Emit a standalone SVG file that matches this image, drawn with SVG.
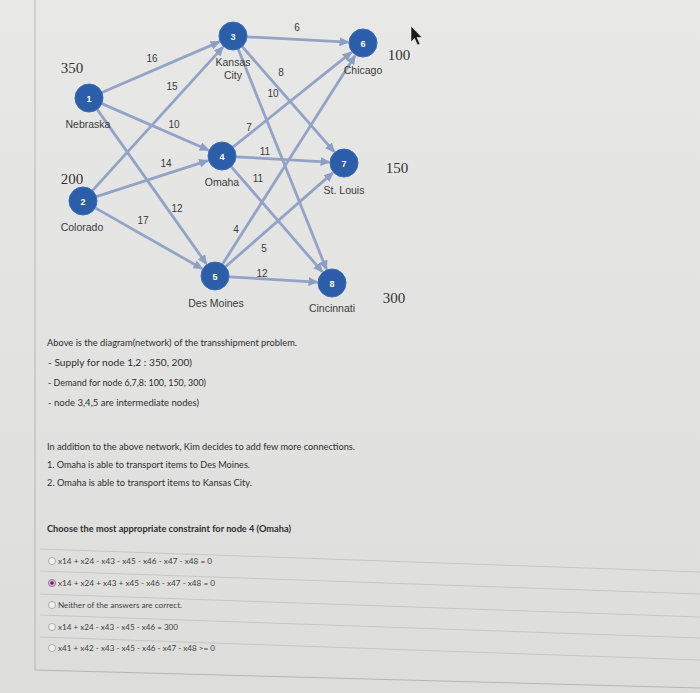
<svg xmlns="http://www.w3.org/2000/svg" width="700" height="693" viewBox="0 0 700 693">
<defs>
<linearGradient id="bg" x1="0" y1="0" x2="0" y2="1">
<stop offset="0" stop-color="#e8e9e6"/>
<stop offset="1" stop-color="#dddedb"/>
</linearGradient>
<marker id="ah" markerUnits="userSpaceOnUse" markerWidth="10" markerHeight="9" refX="8.5" refY="4.5" orient="auto">
<path d="M0,0 L10,4.5 L0,9 z" fill="#8d9ec4"/>
</marker>
</defs>
<style>
.edge{stroke:#93a3c7;stroke-width:2.8;fill:none;marker-end:url(#ah)}
.node circle{fill:#2b5da8;stroke:#3a6cb5;stroke-width:1}
.num{font-family:"Liberation Sans",Arial,sans-serif;font-size:9px;font-weight:bold;fill:#ffffff;text-anchor:middle}
.name{font-family:"Liberation Sans",Arial,sans-serif;font-size:10.5px;fill:#3a3a3a;text-anchor:middle}
.qty{font-family:"Liberation Serif","Times New Roman",serif;font-size:15px;fill:#333333;text-anchor:middle}
.w{font-family:"Liberation Sans",Arial,sans-serif;font-size:10px;fill:#3a3a3a;text-anchor:middle}
.t{font-family:Lato,"Liberation Sans",sans-serif;font-size:9px;fill:#2e2e2e}
.tb{font-family:Lato,"Liberation Sans",sans-serif;font-size:9px;font-weight:bold;fill:#2e2e2e}
.o{font-family:Lato,"Liberation Sans",sans-serif;font-size:7.8px;fill:#3e3e3e}
.sep{stroke:#c6c7c4;stroke-width:1}
.radio{fill:#f2f2f0;stroke:#9a9a98;stroke-width:0.8}
</style>
<rect x="0" y="0" width="700" height="693" fill="url(#bg)"/>
<line x1="35" y1="0" x2="35" y2="670" stroke="#b5b6b3" stroke-width="1"/>
<line x1="35" y1="670" x2="700" y2="688" stroke="#b5b6b3" stroke-width="1"/>

<g id="connectors">
<line class="edge" x1="101.9" y1="92.5" x2="219.2" y2="41.9"/>
<line class="edge" x1="101.8" y1="103.6" x2="208.2" y2="150"/>
<line class="edge" x1="97.1" y1="109.4" x2="206.3" y2="263.8"/>
<line class="edge" x1="92.4" y1="190.6" x2="222.9" y2="47.1"/>
<line class="edge" x1="96.3" y1="196.7" x2="207.7" y2="160.6"/>
<line class="edge" x1="95.2" y1="207.9" x2="202" y2="268.6"/>
<line class="edge" x1="247" y1="36.8" x2="348" y2="42.2"/>
<line class="edge" x1="242.2" y1="46.5" x2="334.1" y2="151.7"/>
<line class="edge" x1="238.2" y1="49" x2="326.4" y2="269.1"/>
<line class="edge" x1="232.9" y1="147.2" x2="351.3" y2="52.4"/>
<line class="edge" x1="236" y1="156.8" x2="329" y2="162.1"/>
<line class="edge" x1="231.2" y1="166.6" x2="322.2" y2="271.7"/>
<line class="edge" x1="222.5" y1="264.2" x2="355" y2="55.7"/>
<line class="edge" x1="225.5" y1="266.8" x2="332.7" y2="172.9"/>
<line class="edge" x1="229" y1="276.8" x2="317" y2="282.1"/>
<text class="w" x="152" y="62">16</text>
<text class="w" x="172" y="90">15</text>
<text class="w" x="174" y="128">10</text>
<text class="w" x="297" y="31">6</text>
<text class="w" x="281" y="76">8</text>
<text class="w" x="273" y="97">10</text>
<text class="w" x="249" y="131">7</text>
<text class="w" x="265" y="155">11</text>
<text class="w" x="166" y="167">14</text>
<text class="w" x="258" y="182">11</text>
<text class="w" x="177" y="212">12</text>
<text class="w" x="143" y="224">17</text>
<text class="w" x="236" y="233">4</text>
<text class="w" x="264" y="252">5</text>
<text class="w" x="262" y="277">12</text>
</g>

<g id="node1" class="node">
<circle cx="89" cy="98" r="14"/>
<text class="num" x="89" y="101.5">1</text>
<text class="name" x="88" y="128">Nebraska</text>
<text class="qty" x="72" y="73">350</text>
</g>
<g id="node2" class="node">
<circle cx="83" cy="201" r="14"/>
<text class="num" x="83" y="204.5">2</text>
<text class="name" x="82" y="231">Colorado</text>
<text class="qty" x="72" y="184">200</text>
</g>
<g id="node3" class="node">
<circle cx="233" cy="36" r="14"/>
<text class="num" x="233" y="39.5">3</text>
<text class="name" x="233" y="66">Kansas</text>
<text class="name" x="233" y="79">City</text>
</g>
<g id="node4" class="node">
<circle cx="222" cy="156" r="14"/>
<text class="num" x="222" y="159.5">4</text>
<text class="name" x="222" y="186">Omaha</text>
</g>
<g id="node5" class="node">
<circle cx="215" cy="276" r="14"/>
<text class="num" x="215" y="279.5">5</text>
<text class="name" x="216" y="307">Des Moines</text>
</g>
<g id="node6" class="node">
<circle cx="363" cy="43" r="14"/>
<text class="num" x="363" y="46.5">6</text>
<text class="name" x="363" y="74">Chicago</text>
<text class="qty" x="399" y="60">100</text>
</g>
<g id="node7" class="node">
<circle cx="344" cy="163" r="14"/>
<text class="num" x="344" y="166.5">7</text>
<text class="name" x="344" y="194">St. Louis</text>
<text class="qty" x="397" y="173">150</text>
</g>
<g id="node8" class="node">
<circle cx="332" cy="283" r="14"/>
<text class="num" x="332" y="286.5">8</text>
<text class="name" x="332" y="312">Cincinnati</text>
<text class="qty" x="394" y="303">300</text>
</g>

<path d="M411,26 L411,42 L414.5,38.5 L417.5,45 L420,44 L417,37.5 L422,37.5 z" fill="#1a1a1a" stroke="#f0f0f0" stroke-width="0.6"/>

<g id="text">
<text class="t" x="47" y="346" textLength="250" lengthAdjust="spacingAndGlyphs">Above is the diagram(network) of the transshipment problem.</text>
<text class="t" x="48" y="366" textLength="144" lengthAdjust="spacingAndGlyphs">- Supply for node 1,2 : 350, 200)</text>
<text class="t" x="48" y="386" textLength="158" lengthAdjust="spacingAndGlyphs">- Demand for node 6,7,8: 100, 150, 300)</text>
<text class="t" x="48" y="406" textLength="151" lengthAdjust="spacingAndGlyphs">- node 3,4,5 are intermediate nodes)</text>
<text class="t" x="47" y="450" textLength="308" lengthAdjust="spacingAndGlyphs">In addition to the above network, Kim decides to add few more connections.</text>
<text class="t" x="47" y="468" textLength="203" lengthAdjust="spacingAndGlyphs">1. Omaha is able to transport items to Des Moines.</text>
<text class="t" x="47" y="486" textLength="205" lengthAdjust="spacingAndGlyphs">2. Omaha is able to transport items to Kansas City.</text>
<text class="tb" x="47" y="532" textLength="244" lengthAdjust="spacingAndGlyphs">Choose the most appropriate constraint for node 4 (Omaha)</text>
</g>

<g id="options">
<line class="sep" x1="40" y1="549" x2="700" y2="572"/>
<line class="sep" x1="40" y1="571" x2="700" y2="594"/>
<line class="sep" x1="40" y1="594" x2="700" y2="617"/>
<line class="sep" x1="40" y1="615" x2="700" y2="638"/>
<line class="sep" x1="40" y1="637" x2="700" y2="660"/>
<circle class="radio" cx="52" cy="561" r="3.5"/>
<circle cx="52" cy="583" r="3.6" fill="#d9b8d9" stroke="#9a5a9a" stroke-width="0.8"/>
<circle cx="52" cy="583" r="1.8" fill="#5a2a5a"/>
<circle class="radio" cx="52" cy="605" r="3.5"/>
<circle class="radio" cx="52" cy="627" r="3.5"/>
<circle class="radio" cx="52" cy="648" r="3.5"/>
<text class="o" x="58" y="564" textLength="154" lengthAdjust="spacingAndGlyphs">x14 + x24 - x43 - x45 - x46 - x47 - x48 = 0</text>
<text class="o" x="58" y="586" textLength="157" lengthAdjust="spacingAndGlyphs">x14 + x24 + x43 + x45 - x46 - x47 - x48 = 0</text>
<text class="o" x="58" y="608" textLength="124" lengthAdjust="spacingAndGlyphs">Neither of the answers are correct.</text>
<text class="o" x="58" y="630" textLength="120" lengthAdjust="spacingAndGlyphs">x14 + x24 - x43 - x45 - x46 = 300</text>
<text class="o" x="58" y="651" textLength="157" lengthAdjust="spacingAndGlyphs">x41 + x42 - x43 - x45 - x46 - x47 - x48 &gt;= 0</text>
</g>
</svg>
